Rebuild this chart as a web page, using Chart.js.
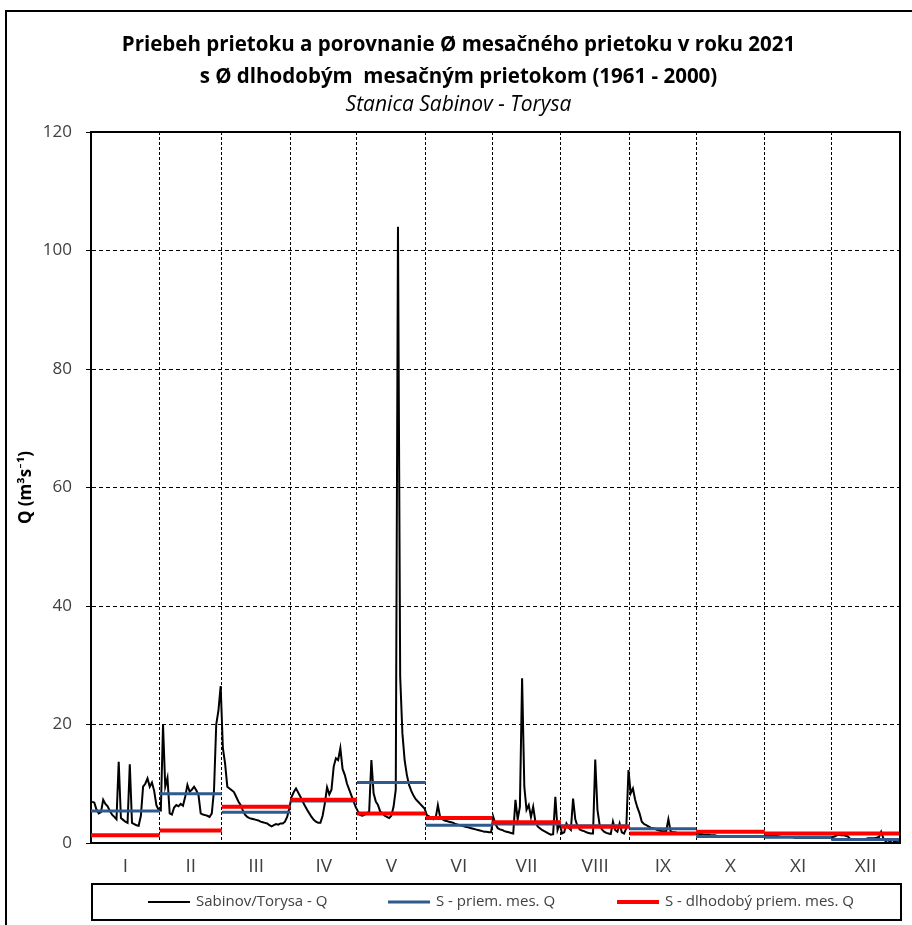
<!DOCTYPE html>
<html lang="sk">
<head>
<meta charset="utf-8">
<title>Sabinov - Torysa 2021</title>
<script src="https://cdn.jsdelivr.net/npm/chart.js@4.4.1/dist/chart.umd.min.js"></script>
<style>
  html, body { margin: 0; padding: 0; background: #fff; }
  canvas { display: block; }
</style>
</head>
<body>
<canvas id="graf" width="912" height="925"></canvas>
<script>
// denne prietoky Q (m3/s), odcitane z grafu
const mesiace = ['I', 'II', 'III', 'IV', 'V', 'VI', 'VII', 'VIII', 'IX', 'X', 'XI', 'XII'];
const dniVMesiaci = [31, 28, 31, 30, 31, 30, 31, 31, 30, 31, 30, 31];

const qJan = [7.0, 6.8, 5.6, 5.0, 5.2, 7.3, 6.6, 6.2, 5.4, 4.8, 4.4, 4.0, 13.7, 4.2, 3.9, 3.6,
  3.4, 13.3, 3.4, 3.2, 3.0, 2.9, 4.6, 9.5, 10.0, 10.9, 9.5, 10.2, 8.8, 6.4, 5.6];
const qFeb = [5.5, 19.9, 9.5, 11.0, 5.0, 4.8, 6.0, 6.4, 6.2, 6.6, 6.3, 7.8, 9.8, 8.7, 9.0, 9.5,
  8.9, 8.1, 5.0, 4.8, 4.7, 4.6, 4.4, 5.0, 8.9, 20.0, 22.4, 26.5];
const qMar = [16.0, 13.4, 9.5, 9.2, 8.9, 8.6, 7.8, 7.0, 6.4, 5.5, 4.8, 4.4, 4.2, 4.1, 4.0, 3.9,
  3.8, 3.6, 3.5, 3.4, 3.3, 3.0, 2.8, 3.0, 3.2, 3.1, 3.3, 3.3, 3.6, 4.4, 5.9];
const qApr = [7.8, 8.6, 9.2, 8.5, 7.8, 7.0, 6.3, 5.6, 5.0, 4.4, 3.9, 3.6, 3.4, 3.4, 4.6, 6.7,
  9.4, 8.2, 9.0, 12.9, 14.3, 14.0, 16.0, 12.5, 11.5, 10.0, 9.0, 8.0, 7.0, 6.0];
const qMaj = [5.3, 4.7, 4.6, 4.8, 5.0, 5.3, 14.0, 8.4, 7.0, 6.4, 5.3, 5.0, 4.6, 4.4, 4.2, 4.6,
  6.1, 9.0, 104.0, 28.0, 18.5, 14.0, 11.5, 9.8, 8.8, 8.0, 7.4, 7.0, 6.6, 6.2, 5.8];
const qJun = [4.7, 4.5, 4.2, 4.0, 4.2, 6.4, 4.4, 4.0, 3.8, 3.7, 3.6, 3.5, 3.4, 3.2, 3.1, 3.0,
  2.9, 2.8, 2.7, 2.6, 2.5, 2.4, 2.3, 2.2, 2.1, 2.0, 1.9, 1.9, 1.8, 1.8];
const qJul = [4.4, 3.2, 2.5, 2.3, 2.2, 2.0, 1.9, 1.8, 1.7, 1.6, 7.3, 4.0, 6.1, 27.8, 9.5, 5.6,
  6.4, 4.4, 6.1, 3.6, 2.8, 2.5, 2.2, 2.0, 1.8, 1.6, 1.4, 1.5, 7.8, 2.2, 3.3];
const qAug = [1.6, 1.8, 3.3, 2.6, 2.2, 7.5, 4.0, 2.8, 2.3, 2.1, 2.0, 1.8, 1.7, 1.6, 1.6, 14.1,
  5.6, 3.0, 2.3, 1.9, 1.7, 1.6, 1.5, 3.6, 2.2, 1.9, 3.3, 1.8, 1.6, 2.5, 12.3];
const qSep = [8.4, 9.2, 7.3, 6.0, 5.0, 3.6, 3.2, 3.0, 2.8, 2.6, 2.5, 2.4, 2.2, 2.1, 2.0, 2.0,
  2.0, 4.0, 2.0, 1.8, 1.8, 1.7, 1.7, 1.6, 1.6, 1.6, 1.6, 1.5, 1.6, 1.6];
const qOkt = [1.6, 1.5, 1.5, 1.4, 1.4, 1.4, 1.3, 1.3, 1.3, 1.2, 1.2, 1.2, 1.1, 1.1, 1.1, 1.1,
  1.1, 1.0, 1.0, 1.0, 1.0, 1.0, 1.0, 1.0, 1.0, 1.0, 1.0, 1.0, 1.0, 1.0, 1.1];
const qNov = [1.3, 1.4, 1.3, 1.3, 1.2, 1.2, 1.1, 1.0, 1.0, 1.0, 1.0, 1.0, 1.0, 0.9, 0.9, 0.9,
  0.9, 0.9, 0.9, 0.9, 0.9, 0.9, 0.9, 0.9, 0.9, 0.9, 0.9, 0.9, 0.9, 0.9];
const qDec = [1.0, 1.1, 1.3, 1.4, 1.3, 1.3, 1.2, 1.1, 0.7, 0.6, 0.6, 0.6, 0.6, 0.6, 0.6, 0.7,
  0.8, 0.8, 0.8, 0.8, 0.9, 1.0, 1.9, 0.8, 0.3, 0.5, 0.2, 0.6, 0.2, 0.4, 0.3];

// mesacne priemery
const priemerMes = [5.4, 8.3, 5.2, 7.1, 10.2, 3.0, 3.2, 2.9, 2.4, 1.1, 0.96, 0.6];
const dlhodobyPriemer = [1.3, 2.1, 6.1, 7.3, 5.0, 4.2, 3.5, 2.75, 1.6, 1.9, 1.6, 1.6];

const yZnacky = [0, 20, 40, 60, 80, 100, 120];

const PISMO = '"Open Sans", Lato, sans-serif';

const denneQ = [qJan, qFeb, qMar, qApr, qMaj, qJun, qJul, qAug, qSep, qOkt, qNov, qDec].flat();

const hranice = [0];
dniVMesiaci.forEach(d => hranice.push(hranice[hranice.length - 1] + d));
const stredy = mesiace.map((m, i) => (hranice[i] + hranice[i + 1]) / 2);

function usekyMesiacov(hodnoty) {
  const body = [];
  hodnoty.forEach((v, i) => {
    body.push({ x: hranice[i], y: v });
    body.push({ x: hranice[i + 1], y: v });
    body.push({ x: hranice[i + 1], y: null });
  });
  return body;
}

const jeHranica = v => hranice.slice(1, -1).some(h => Math.abs(h - v) < 0.01);

const ramPlugin = {
  id: 'ram',
  afterDraw(chart) {
    const ctx = chart.ctx;
    const a = chart.chartArea;
    ctx.save();
    ctx.strokeStyle = '#000';
    ctx.lineWidth = 2;
    ctx.beginPath();
    ctx.moveTo(a.left, a.top);
    ctx.lineTo(a.right, a.top);
    ctx.lineTo(a.right, a.bottom);
    ctx.stroke();
    // vonkajsi ram grafu
    ctx.beginPath();
    ctx.moveTo(6, chart.height);
    ctx.lineTo(6, 11);
    ctx.lineTo(chart.width, 11);
    ctx.stroke();
    ctx.restore();
  }
};

const legendaPlugin = {
  id: 'legenda',
  afterDraw(chart) {
    const ctx = chart.ctx;
    const a = chart.chartArea;
    const hore = 884, vyska = 36;
    const stredY = hore + vyska / 2;
    const legendaX = [148, 388, 617];
    ctx.save();
    ctx.strokeStyle = '#000';
    ctx.lineWidth = 2;
    ctx.strokeRect(a.left + 1, hore, a.right - a.left, vyska);
    ctx.font = '15px ' + PISMO;
    ctx.fillStyle = '#404040';
    ctx.textBaseline = 'middle';
    chart.data.datasets.forEach((ds, i) => {
      const x = legendaX[i];
      ctx.strokeStyle = ds.borderColor;
      ctx.lineWidth = ds.borderWidth;
      ctx.beginPath();
      ctx.moveTo(x, stredY);
      ctx.lineTo(x + 42, stredY);
      ctx.stroke();
      ctx.fillText(ds.label, x + 48, stredY);
    });
    ctx.restore();
  }
};

new Chart(document.getElementById('graf'), {
  type: 'line',
  data: {
    datasets: [
      {
        label: 'Sabinov/Torysa - Q',
        data: denneQ.map((q, i) => ({ x: i + 0.5, y: q })),
        borderColor: '#000000',
        borderWidth: 2,
        pointRadius: 0,
        tension: 0,
        order: 3
      },
      {
        label: 'S - priem. mes. Q',
        data: usekyMesiacov(priemerMes),
        borderColor: '#2F5A8E',
        borderWidth: 3,
        pointRadius: 0,
        spanGaps: false,
        order: 2
      },
      {
        label: 'S - dlhodobý priem. mes. Q',
        data: usekyMesiacov(dlhodobyPriemer),
        borderColor: '#FF0000',
        borderWidth: 4,
        pointRadius: 0,
        spanGaps: false,
        order: 1
      }
    ]
  },
  options: {
    responsive: false,
    animation: false,
    events: [],
    layout: { padding: { top: 10, left: 10, right: 5, bottom: 44 } },
    scales: {
      x: {
        type: 'linear',
        min: 0,
        max: 365,
        afterBuildTicks: scale => {
          scale.ticks = hranice.concat(stredy).sort((p, q) => p - q).map(v => ({ value: v }));
        },
        afterFit: scale => { scale.height = 38; },
        ticks: {
          autoSkip: false,
          maxRotation: 0,
          padding: 12,
          color: '#404040',
          font: { family: PISMO, size: 19 },
          callback: value => {
            const i = stredy.findIndex(s => Math.abs(s - value) < 0.01);
            return i >= 0 ? mesiace[i] : '';
          }
        },
        grid: {
          drawTicks: false,
          color: c => (c.tick && jeHranica(c.tick.value)) ? '#000' : 'rgba(0,0,0,0)',
          lineWidth: 1
        },
        border: { display: true, color: '#000', width: 2, dash: [3, 2] }
      },
      y: {
        min: 0,
        max: 120,
        afterBuildTicks: scale => {
          scale.ticks = yZnacky.map(v => ({ value: v }));
        },
        afterFit: scale => { scale.width = 81; },
        ticks: {
          padding: 14,
          color: '#404040',
          font: { family: PISMO, size: 17 }
        },
        grid: {
          color: '#000',
          lineWidth: 1,
          drawTicks: true,
          tickLength: 5,
          tickColor: '#000',
          tickBorderDash: []
        },
        border: { display: true, color: '#000', width: 2, dash: [4, 3] },
        title: {
          display: true,
          text: 'Q (m³s⁻¹)',
          color: '#000',
          font: { family: PISMO, size: 17, weight: 'bold' },
          padding: { top: 6, bottom: 0 }
        }
      }
    },
    plugins: {
      legend: { display: false },
      tooltip: { enabled: false },
      title: {
        display: true,
        text: ['Priebeh prietoku a porovnanie Ø mesačného prietoku v roku 2021',
          's Ø dlhodobým  mesačným prietokom (1961 - 2000)'],
        color: '#000',
        font: { family: PISMO, size: 20.5, weight: 'bold', lineHeight: 1.561 },
        padding: { top: 19, bottom: 0 }
      },
      subtitle: {
        display: true,
        text: 'Stanica Sabinov - Torysa',
        color: '#000',
        font: { family: PISMO, size: 21, style: 'italic', lineHeight: 1.048 },
        padding: { top: 1, bottom: 16 }
      }
    }
  },
  plugins: [ramPlugin, legendaPlugin]
});
</script>
</body>
</html>
